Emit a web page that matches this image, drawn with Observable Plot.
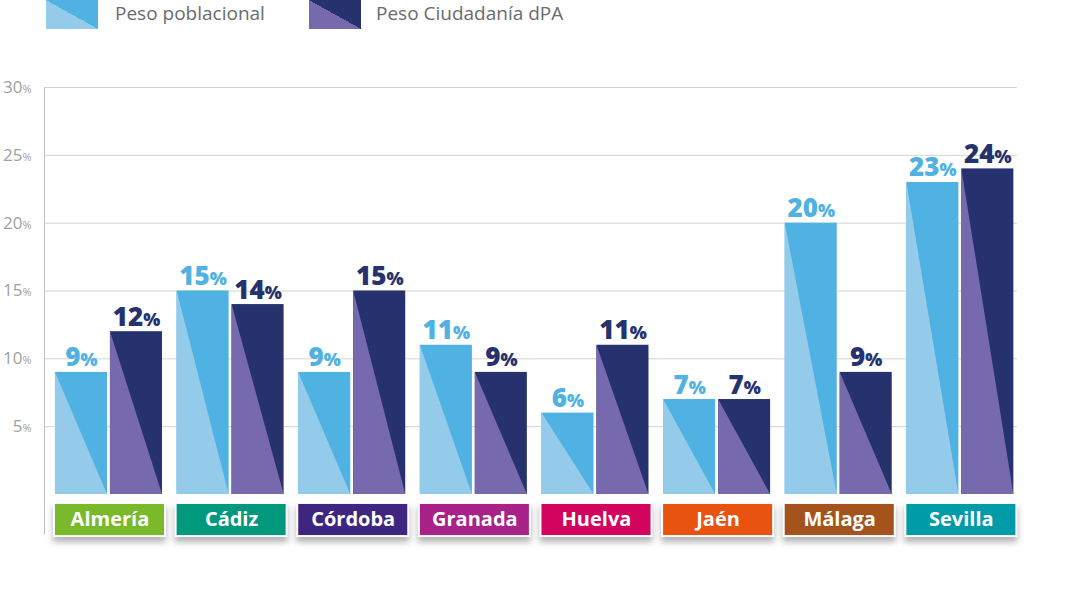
<!DOCTYPE html>
<html>
<head>
<meta charset="utf-8">
<script src="https://cdn.jsdelivr.net/npm/d3@7"></script>
<script src="https://cdn.jsdelivr.net/npm/@observablehq/plot@0.6"></script>
<style>
  html, body { margin: 0; padding: 0; background: #fff; }
  body { width: 1069px; height: 597px; overflow: hidden; font-family: "Open Sans", sans-serif; }
  #legend { position: relative; height: 40px; }
  .sw { position: absolute; top: 0; width: 52px; height: 29px; }
  .lt { position: absolute; top: 0px; font-size: 19px; color: #6b6b6b; line-height: 26px; }
  #chart svg { display: block; overflow: visible; }
</style>
</head>
<body>
<div id="legend">
  <div class="sw" style="left:46px;background:linear-gradient(to top right,#94cbea 50%,#50b2e3 50%);"></div>
  <div class="lt" style="left:115px;">Peso poblacional</div>
  <div class="sw" style="left:309px;background:linear-gradient(to top right,#7669ae 50%,#25326d 50%);"></div>
  <div class="lt" style="left:376px;">Peso Ciudadanía dPA</div>
</div>
<div id="chart"></div>
<script>
const provinces = ["Almería", "Cádiz", "Córdoba", "Granada", "Huelva", "Jaén", "Málaga", "Sevilla"];
const provinceColors = ["#7ab929", "#00997e", "#3e2680", "#a8228a", "#d2045e", "#e8540f", "#a4531d", "#009ba8"];
const pesoPoblacional = [9, 15, 9, 11, 6, 7, 20, 23];
const pesoCiudadania = [12, 14, 15, 9, 11, 7, 9, 24];
const yTicks = [5, 10, 15, 20, 25, 30];

const series = [
  {key: "pob", values: pesoPoblacional, light: "#94cbea", dark: "#50b2e3", label: "#50b2e3", off1: -0.44, off2: -0.012},
  {key: "dpa", values: pesoCiudadania, light: "#7669ae", dark: "#25326d", label: "#25326d", off1: 0.012, off2: 0.44}
];

const bars = [];
series.forEach(s => provinces.forEach((p, i) => {
  bars.push({series: s.key, province: p, i, v: s.values[i], x1: i + s.off1, x2: i + s.off2});
}));
const tri = bars.flatMap(b => [
  {id: b.series + b.i, series: b.series, x: b.x1, y: b.v},
  {id: b.series + b.i, series: b.series, x: b.x2, y: 0}
]);
const boxes = provinces.map((p, i) => ({p, i, color: provinceColors[i]}));

const xMin = -0.53, xMax = 7.47;

const marks = [
  Plot.ruleY(yTicks, {stroke: "#d2d2d2", strokeWidth: 1}),
  Plot.ruleX([xMin], {y1: 30, y2: -3.02, stroke: "#c0c0c0", strokeWidth: 1}),
  Plot.text(yTicks, {x: xMin, y: d => d, text: d => d + "%", textAnchor: "end", dx: -13, fill: "#a0a0a0", fontSize: 17, fontFamily: "Open Sans"}),
];
series.forEach(s => {
  const b = bars.filter(d => d.series === s.key);
  marks.push(Plot.rectY(b, {x1: "x1", x2: "x2", y: "v", fill: s.dark}));
  marks.push(Plot.areaY(tri.filter(d => d.series === s.key), {x: "x", y: "y", z: "id", fill: s.light, curve: "linear"}));
  marks.push(Plot.text(b, {x: d => (d.x1 + d.x2) / 2, y: "v", text: d => d.v + "%", lineAnchor: "bottom", dy: -6, fill: s.label, fontSize: 26, fontWeight: 800, fontFamily: "Open Sans"}));
});
marks.push(Plot.rect(boxes, {x1: d => d.i - 0.448, x2: d => d.i + 0.465, y1: -0.66, y2: -3.1, fill: "color", stroke: "#ffffff", strokeWidth: 2, imageFilter: "drop-shadow(0px 5px 3px rgba(0,0,0,0.3))"}));
marks.push(Plot.text(boxes, {x: d => d.i + 0.008, y: -1.88, text: "p", fill: "#ffffff", fontSize: 20, fontWeight: 700, fontFamily: "Open Sans"}));

const chart = Plot.plot({
  width: 1069,
  height: 557,
  marginLeft: 44,
  marginRight: 52,
  marginTop: 47,
  marginBottom: 103,
  x: {type: "linear", domain: [xMin, xMax], axis: null},
  y: {domain: [0, 30], axis: null},
  color: {type: "identity"},
  style: {background: "transparent", fontFamily: "Open Sans"},
  marks
});

// smaller "%" sign, as in the original
chart.querySelectorAll("text").forEach(el => {
  const m = /^(\d+)%$/.exec(el.textContent);
  if (!m) return;
  const g = el.closest("g[font-size]");
  const fs = g ? parseFloat(g.getAttribute("font-size")) : 16;
  el.textContent = m[1];
  const t = document.createElementNS("http://www.w3.org/2000/svg", "tspan");
  t.setAttribute("font-size", fs > 20 ? 18 : 11);
  t.textContent = "%";
  el.appendChild(t);
});
document.getElementById("chart").appendChild(chart);
</script>
</body>
</html>
